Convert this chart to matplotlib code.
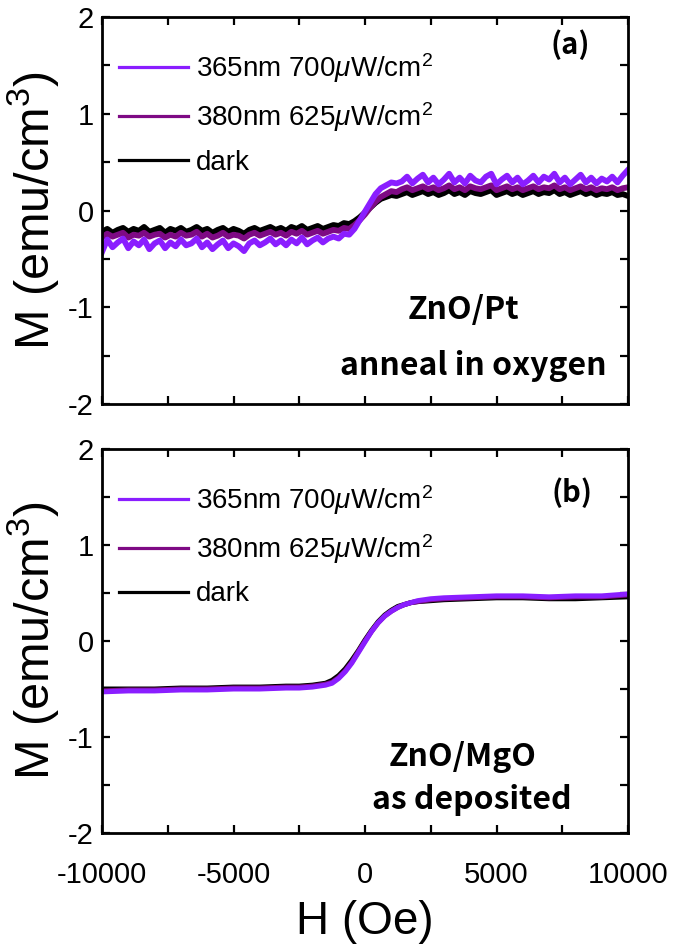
import numpy as np
import matplotlib
matplotlib.use("Agg")
import matplotlib.pyplot as plt
from matplotlib.ticker import MultipleLocator
from matplotlib.lines import Line2D

plt.rcParams['font.family'] = ['Liberation Sans', 'DejaVu Sans']
plt.rcParams['mathtext.fontset'] = 'custom'
plt.rcParams['mathtext.rm'] = 'Liberation Sans'
plt.rcParams['mathtext.it'] = 'Liberation Sans:italic'
plt.rcParams['mathtext.bf'] = 'Liberation Sans:bold'
plt.rcParams['axes.unicode_minus'] = False

# ---------------- data ----------------
labels = ["365nm 700$\\mu$W/cm$^2$", "380nm 625$\\mu$W/cm$^2$", "dark"]
colors = ["#8A1EFF", "#7E0A84", "#000000"]

# panel (a): ZnO/Pt anneal in oxygen, H from -10000 to 10000 step 200
H_a = np.arange(-10000, 10001, 200)
dark_a = [
    -0.22, -0.19, -0.23, -0.20, -0.18, -0.22, -0.19, -0.21, -0.17, -0.22,
    -0.20, -0.18, -0.23, -0.19, -0.21, -0.18, -0.22, -0.20, -0.17, -0.21,
    -0.19, -0.23, -0.20, -0.18, -0.22, -0.19, -0.21, -0.24, -0.20, -0.18,
    -0.21, -0.19, -0.17, -0.20, -0.18, -0.21, -0.17, -0.19, -0.16, -0.20,
    -0.18, -0.16, -0.19, -0.17,
    -0.15, -0.16, -0.13, -0.14, -0.11, -0.07, -0.02, 0.03, 0.08, 0.12, 0.14, 0.16, 0.15,
    0.17, 0.19, 0.16, 0.18, 0.20, 0.17, 0.19, 0.16, 0.18, 0.21,
    0.17, 0.19, 0.16, 0.20, 0.18, 0.17, 0.19, 0.21, 0.16, 0.18,
    0.20, 0.17, 0.19, 0.16, 0.18, 0.20, 0.17, 0.19, 0.18, 0.21,
    0.17, 0.19, 0.16, 0.18, 0.20, 0.17, 0.19, 0.16, 0.18, 0.17,
    0.19, 0.16, 0.17, 0.15]
uv380_a = [
    -0.28, -0.24, -0.27, -0.25, -0.23, -0.28, -0.25, -0.26, -0.23, -0.27,
    -0.25, -0.24, -0.28, -0.25, -0.27, -0.23, -0.26, -0.25, -0.22, -0.27,
    -0.24, -0.28, -0.26, -0.23, -0.27, -0.25, -0.26, -0.29, -0.25, -0.23,
    -0.26, -0.24, -0.22, -0.25, -0.23, -0.26, -0.22, -0.24, -0.21, -0.25,
    -0.23, -0.21, -0.24, -0.22,
    -0.20, -0.21, -0.18, -0.19, -0.15, -0.10, -0.04, 0.03, 0.09, 0.14, 0.17, 0.20, 0.19,
    0.22, 0.24, 0.21, 0.23, 0.25, 0.22, 0.24, 0.21, 0.23, 0.26,
    0.22, 0.24, 0.21, 0.25, 0.23, 0.22, 0.24, 0.26, 0.21, 0.23,
    0.25, 0.22, 0.24, 0.21, 0.23, 0.25, 0.22, 0.24, 0.23, 0.26,
    0.22, 0.24, 0.21, 0.23, 0.25, 0.22, 0.24, 0.21, 0.23, 0.22,
    0.24, 0.21, 0.23, 0.24]
uv365_a = [
    -0.43, -0.30, -0.38, -0.33, -0.29, -0.39, -0.32, -0.36, -0.30, -0.40,
    -0.34, -0.31, -0.39, -0.33, -0.37, -0.30, -0.36, -0.34, -0.29, -0.38,
    -0.33, -0.40, -0.35, -0.31, -0.39, -0.34, -0.37, -0.42, -0.34, -0.31,
    -0.36, -0.33, -0.29, -0.35, -0.31, -0.36, -0.30, -0.34, -0.28, -0.35,
    -0.31, -0.28, -0.33, -0.29,
    -0.27, -0.29, -0.24, -0.25, -0.19, -0.10, -0.01, 0.08, 0.17, 0.23, 0.26, 0.29, 0.28,
    0.30, 0.35, 0.28, 0.33, 0.37, 0.29, 0.34, 0.27, 0.32, 0.38,
    0.29, 0.34, 0.28, 0.36, 0.31, 0.29, 0.35, 0.38, 0.27, 0.32,
    0.36, 0.29, 0.34, 0.27, 0.31, 0.36, 0.29, 0.35, 0.32, 0.38,
    0.29, 0.34, 0.27, 0.32, 0.37, 0.29, 0.34, 0.28, 0.33, 0.30,
    0.35, 0.29, 0.36, 0.42]

# panel (b): ZnO/MgO as deposited
H_b = [-10000, -9000, -8000, -7000, -6000, -5000, -4000, -3000, -2500, -2000,
       -1750, -1500, -1250, -1000, -750, -500, -250, 0, 250, 500,
       750, 1000, 1250, 1500, 1750, 2000, 2500, 3000, 4000, 5000,
       6000, 7000, 8000, 9000, 10000]
dark_b = [-0.50, -0.50, -0.50, -0.49, -0.49, -0.48, -0.48, -0.47, -0.47, -0.46,
          -0.45, -0.44, -0.41, -0.36, -0.29, -0.20, -0.10, 0.01, 0.11, 0.20,
          0.27, 0.32, 0.36, 0.38, 0.40, 0.41, 0.42, 0.43, 0.44, 0.45,
          0.45, 0.44, 0.44, 0.45, 0.46]
uv380_b = [-0.52, -0.51, -0.51, -0.50, -0.50, -0.49, -0.49, -0.48, -0.48, -0.47,
           -0.46, -0.45, -0.43, -0.38, -0.31, -0.22, -0.11, 0.00, 0.10, 0.19,
           0.26, 0.31, 0.35, 0.38, 0.40, 0.41, 0.43, 0.44, 0.45, 0.46,
           0.46, 0.45, 0.46, 0.46, 0.48]
uv365_b = [-0.53, -0.52, -0.52, -0.51, -0.51, -0.50, -0.50, -0.49, -0.49, -0.48,
           -0.47, -0.46, -0.44, -0.39, -0.32, -0.23, -0.12, -0.01, 0.10, 0.19,
           0.26, 0.31, 0.35, 0.38, 0.40, 0.42, 0.44, 0.45, 0.46, 0.47,
           0.47, 0.46, 0.47, 0.47, 0.49]

panels = [
    dict(H=H_a, series=[uv365_a, uv380_a, dark_a], tag="(a)",
         t1="ZnO/Pt", t2="anneal in oxygen", lw=4.2,
         pos_tag=(7800, 1.71), pos_t1=(3730, -1.03), pos_t2=(4100, -1.61)),
    dict(H=H_b, series=[uv365_b, uv380_b, dark_b], tag="(b)",
         t1="ZnO/MgO", t2="as deposited", lw=3.6,
         pos_tag=(7870, 1.54), pos_t1=(3700, -1.21), pos_t2=(4080, -1.66)),
]

# ---------------- figure ----------------
W, Hpx = 675, 951
fig = plt.figure(figsize=(W / 100, Hpx / 100), dpi=100)
left, right = 102 / W, 628 / W
ax_a = fig.add_axes([left, 1 - 404 / Hpx, right - left, (404 - 17) / Hpx])
ax_b = fig.add_axes([left, 1 - 833 / Hpx, right - left, (833 - 449) / Hpx])

bold_font = ['Noto Sans CJK KR', 'DejaVu Sans']

for ax, p in zip([ax_a, ax_b], panels):
    # draw dark first, 365nm last (on top)
    for i in [2, 1, 0]:
        ax.plot(p["H"], p["series"][i], color=colors[i], lw=p["lw"],
                solid_joinstyle='round')
    leg_handles = [Line2D([], [], color=c, lw=2.3) for c in colors]
    ax.legend(leg_handles, labels, loc='upper left',
              bbox_to_anchor=(0.032, 1 - 34 / 387), frameon=False,
              fontsize=20, handlelength=2.5, handletextpad=0.29,
              labelspacing=0.56, borderpad=0, borderaxespad=0)
    ax.set_xlim(-10000, 10000)
    ax.set_ylim(-2, 2)
    ax.xaxis.set_major_locator(MultipleLocator(5000))
    ax.xaxis.set_minor_locator(MultipleLocator(2500))
    ax.yaxis.set_major_locator(MultipleLocator(1))
    ax.yaxis.set_minor_locator(MultipleLocator(0.5))
    ax.tick_params(which='both', direction='in', top=True, right=True,
                   length=6, width=1.6, labelsize=21)
    ax.tick_params(axis='x', pad=20)
    ax.tick_params(axis='y', pad=6)
    for s in ax.spines.values():
        s.set_linewidth(2.0)
    ax.set_ylabel("M (emu/cm$^3$)", fontsize=35, labelpad=5)
    for pos, txt, fs in [(p["pos_tag"], p["tag"], 21),
                         (p["pos_t1"], p["t1"], 23),
                         (p["pos_t2"], p["t2"], 23)]:
        ax.text(*pos, txt, fontsize=fs, fontweight='bold',
                family=bold_font, ha='center', va='center')

ax_a.tick_params(labelbottom=False)
ax_b.set_xlabel("H (Oe)", fontsize=33, labelpad=8)

fig.savefig("out.png", dpi=100)
